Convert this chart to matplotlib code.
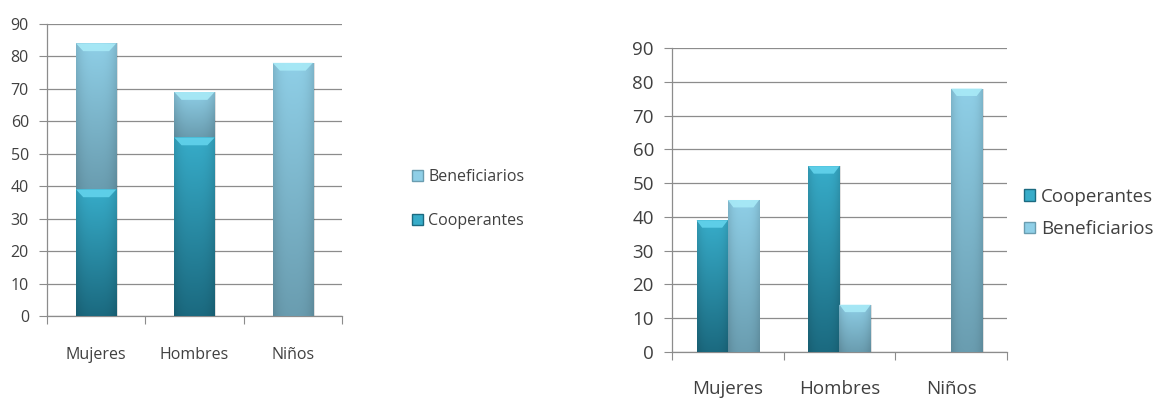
import numpy as np
import matplotlib as mpl
mpl.use('Agg')
import matplotlib.pyplot as pl
from matplotlib.patches import Polygon, Patch
from matplotlib.colors import LinearSegmentedColormap

pl.rcParams['font.family'] = ['Open Sans', 'DejaVu Sans']

categories = ['Mujeres', 'Hombres', 'Niños']
cooperantes = [39, 55, 0]
beneficiarios = [45, 14, 78]
yticks = np.arange(0, 100, 10)

txtcol = '#404040'
gridcol = '#8c8c8c'
# top / bottom colours of each series
coop_cols = ('#37acc9', '#1b6a80')
bene_cols = ('#8fcfe7', '#6a9db0')
cap_cols = {'coop': '#62d3ec', 'bene': '#a8eaf7'}


def shade_bar(ax, rect, cols, cap, cap_h):
	x0, y0 = rect.get_x(), rect.get_y()
	w, h = rect.get_width(), rect.get_height()
	if h <= 0:
		return
	cmap = LinearSegmentedColormap.from_list('g', [cols[1], cols[0]])
	grad = np.linspace(0, 1, 100).reshape(-1, 1)
	# slight darkening towards the bar sides
	side = 1 - 0.12 * np.abs(np.linspace(-1, 1, 40)) ** 3
	img = cmap(grad)[:, :, :3] * side[None, :, None]
	im = ax.imshow(img, extent=[x0, x0 + w, y0, y0 + h], origin='lower',
	               aspect='auto', zorder=3, interpolation='bilinear')
	im.set_clip_path(rect)
	ch = min(cap_h, h * 0.5)
	ins = w * 0.18
	ax.add_patch(Polygon([[x0, y0 + h], [x0 + w, y0 + h], [x0 + w - ins, y0 + h - ch],
	                      [x0 + ins, y0 + h - ch]], closed=True, fc=cap, ec='none',
	                     zorder=4, alpha=0.9))
	# soft shadow at right of the bar
	ax.add_patch(pl.Rectangle((x0 + w, y0), w * 0.04, h, fc='#000000', alpha=0.12,
	                          ec='none', zorder=2))


def style_axes(ax, fs, lpad):
	ax.set_xlim(-0.5, 2.5)
	ax.set_ylim(0, 90)
	ax.set_yticks(yticks)
	ax.yaxis.grid(True, color=gridcol, lw=0.9)
	ax.set_axisbelow(True)
	for s in ['top', 'right']:
		ax.spines[s].set_visible(False)
	for s in ['left', 'bottom']:
		ax.spines[s].set_color(gridcol)
		ax.spines[s].set_linewidth(0.9)
	ax.set_xticks([-0.5, 0.5, 1.5, 2.5])
	ax.set_xticklabels([])
	ax.set_xticks(range(3), minor=True)
	ax.set_xticklabels(categories, minor=True, fontsize=fs, color=txtcol)
	ax.tick_params(axis='x', which='major', length=6, color=gridcol, direction='out')
	ax.tick_params(axis='x', which='minor', length=0, pad=lpad)
	ax.tick_params(axis='y', length=6, color=gridcol, labelsize=fs, labelcolor=txtcol, pad=7)


f = pl.figure(figsize=(11.61, 3.98), dpi=100)
x = np.arange(len(categories))

# stacked chart
ax1 = f.add_axes([0.0405, 0.206, 0.254, 0.734])
w1 = 0.41
b1 = ax1.bar(x, cooperantes, w1, color='none', zorder=3)
b2 = ax1.bar(x, beneficiarios, w1, bottom=cooperantes, color='none', zorder=3)
for r in b1:
	shade_bar(ax1, r, coop_cols, cap_cols['coop'], 2.4)
for r in b2:
	shade_bar(ax1, r, bene_cols, cap_cols['bene'], 2.4)
style_axes(ax1, 11.5, 22)
ax1.legend(handles=[Patch(fc=bene_cols[0], ec=bene_cols[1]), Patch(fc=coop_cols[0], ec=coop_cols[1])],
           labels=['Beneficiarios', 'Cooperantes'], loc='center left', bbox_to_anchor=(1.19, 0.4),
           frameon=False, fontsize=11.5, handlelength=0.65, handleheight=0.65,
           handletextpad=0.35, labelspacing=1.75, labelcolor=txtcol)

# grouped chart
ax2 = f.add_axes([0.5788, 0.1156, 0.2885, 0.7638])
w2 = 0.28
g1 = ax2.bar(x - w2 / 2, cooperantes, w2, color='none', zorder=3)
g2 = ax2.bar(x + w2 / 2, beneficiarios, w2, color='none', zorder=3)
for r in g1:
	shade_bar(ax2, r, coop_cols, cap_cols['coop'], 2.2)
for r in g2:
	shade_bar(ax2, r, bene_cols, cap_cols['bene'], 2.2)
style_axes(ax2, 13.5, 20)
ax2.legend(handles=[Patch(fc=coop_cols[0], ec=coop_cols[1]), Patch(fc=bene_cols[0], ec=bene_cols[1])],
           labels=['Cooperantes', 'Beneficiarios'], loc='center left', bbox_to_anchor=(1.0, 0.457),
           frameon=False, fontsize=13.5, handlelength=0.6, handleheight=0.6, handletextpad=0.3,
           labelspacing=0.75, labelcolor=txtcol)

f.savefig('out.png', dpi=100)
